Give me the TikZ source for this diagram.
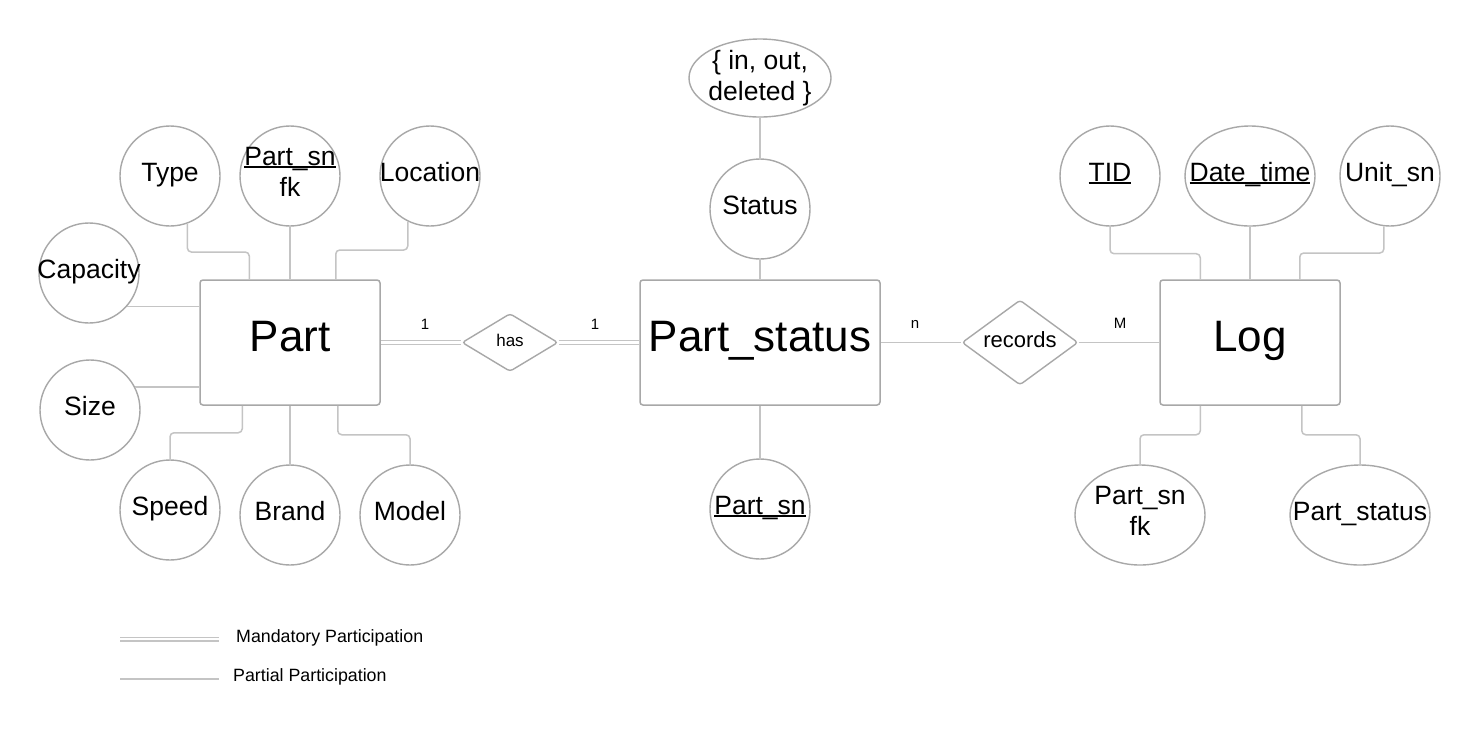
\documentclass[tikz,border=0pt]{standalone}
\usepackage{fontspec}
\setmainfont{Liberation Sans}
\usetikzlibrary{shapes.geometric}
\definecolor{shapegray}{HTML}{A8A8A8}
\definecolor{conngray}{HTML}{C4C4C4}
\newsavebox\keybox
\newcommand\keytxt[1]{\sbox\keybox{#1}\rlap{\rule[-0.11em]{\wd\keybox}{0.075em}}\usebox\keybox}
\newcommand\onel[2][5]{\makebox[0pt]{\raisebox{-#1pt}[0pt][0pt]{#2}}}
\newcommand\twol[3][20]{\makebox[0pt]{\raisebox{-#1pt}[0pt][0pt]{\begin{tabular}[b]{@{}c@{}}#2\\#3\end{tabular}}}}
\tikzset{
  ent/.style={rectangle, draw=shapegray, line width=1.5pt, rounded corners=3pt,
    minimum height=125pt, inner sep=0pt, font=\fontsize{44}{50}\selectfont},
  attr/.style={circle, draw=shapegray, line width=1.4pt, minimum size=100pt,
    inner sep=0pt, font=\fontsize{26.5}{31}\selectfont},
  attre/.style={ellipse, draw=shapegray, line width=1.4pt, inner sep=0pt,
    font=\fontsize{26.5}{31}\selectfont},
  rel/.style={diamond, draw=shapegray, line width=1.4pt, rounded corners=3pt, inner sep=0pt},
  conn/.style={draw=conngray, line width=1.5pt, rounded corners=4pt},
  mand/.style={draw=conngray, line width=1.4pt, double=white, double distance=2.2pt},
  card/.style={font=\fontsize{15}{18}\selectfont, inner sep=0pt},
  legtxt/.style={font=\fontsize{17.8}{21}\selectfont, inner sep=0pt, anchor=west}
}
\begin{document}
\begin{tikzpicture}[x=1pt,y=-1pt]
\useasboundingbox[fill=white] (0,0) rectangle (1480,740);

% entities
\node[ent, minimum width=180pt] (Part) at (290,342.5) {\onel[9]{Part}};
\node[ent, minimum width=240pt] (PS) at (760,342.5) {\onel[9]{Part\_status}};
\node[ent, minimum width=180pt] (Log) at (1250,342.5) {\onel[9]{Log}};

% relationships
\node[rel, minimum width=96pt, minimum height=58pt] (has) at (510,342.5)
  {\onel[4]{\fontsize{17}{20}\selectfont has}};
\node[rel, minimum width=116pt, minimum height=85pt] (rec) at (1020,342.5)
  {\onel[5]{\fontsize{22}{26}\selectfont records}};

% Part attributes
\node[attr] (Type) at (170,176) {\onel{Type}};
\node[attr] (PSnFk) at (290,176) {\twol{\keytxt{Part\_sn}}{fk}};
\node[attr] (Loc) at (430,176) {\onel{Location}};
\node[attr] (Cap) at (89,273) {\onel{Capacity}};
\node[attr] (Size) at (90,410) {\onel{Size}};
\node[attr] (Speed) at (170,510) {\onel{Speed}};
\node[attr] (Brand) at (290,515) {\onel{Brand}};
\node[attr] (Model) at (410,515) {\onel{Model}};

% Part_status attributes
\node[attre, minimum width=142pt, minimum height=78pt] (Dom) at (760,78)
  {\twol[22]{\{ in, out,}{deleted \}}};
\node[attr] (Status) at (760,209) {\onel{Status}};
\node[attr] (PSsn) at (760,509) {\onel{\keytxt{Part\_sn}}};

% Log attributes
\node[attr] (TID) at (1110,176) {\onel{\keytxt{TID}}};
\node[attre, minimum width=130pt, minimum height=100pt] (Date) at (1250,176)
  {\onel{\keytxt{Date\_time}}};
\node[attr] (Unit) at (1390,176) {\onel{Unit\_sn}};
\node[attre, minimum width=130pt, minimum height=100pt] (LPsn) at (1140,515)
  {\twol{Part\_sn}{fk}};
\node[attre, minimum width=140pt, minimum height=100pt] (LPst) at (1360,515)
  {\onel{Part\_status}};

% connectors: Part
\draw[conn] (Type.-70) -- (Type.-70 |- 0,252) -| ([xshift=50pt]Part.north west);
\draw[conn] (PSnFk.south) -- (Part.north);
\draw[conn] (Loc.-116) -- (Loc.-116 |- 0,250) -| ([xshift=-45pt]Part.north east);
\draw[conn] (Cap.-41) -- (Cap.-41 -| Part.west);
\draw[conn] (Size.27) -- (Size.27 -| Part.west);
\draw[conn] ([xshift=43pt]Part.south west) -- ++(0,27) -| (Speed.north);
\draw[conn] (Part.south) -- (Brand.north);
\draw[conn] ([xshift=-43pt]Part.south east) -- ++(0,29) -| (Model.north);

% connectors: Part_status
\draw[conn] (Dom.south) -- (Status.north);
\draw[conn] (Status.south) -- (PS.north);
\draw[conn] (PS.south) -- (PSsn.north);

% connectors: Log
\draw[conn] (TID.south) -- ++(0,27) -| ([xshift=41pt]Log.north west);
\draw[conn] (Date.south) -- (Log.north);
\draw[conn] (Unit.-97) -- (Unit.-97 |- 0,253) -| ([xshift=-41pt]Log.north east);
\draw[conn] ([xshift=41pt]Log.south west) -- ++(0,29) -| (LPsn.north);
\draw[conn] ([xshift=-39pt]Log.south east) -- ++(0,29) -| (LPst.north);

% relationship lines
\draw[mand] (Part.east) -- (has.west);
\draw[mand] (has.east) -- (PS.west);
\draw[conn] (PS.east) -- (rec.west);
\draw[conn] (rec.east) -- (Log.west);

% cardinalities
\node[card] (c1) at (425,324) {1};
\node[card] (c2) at (595,324) {1};
\node[card] (c3) at (915,324) {n};
\node[card] (c4) at (1120,323) {M};

% legend
\coordinate (m1) at (120,639);
\coordinate (m2) at (219,639);
\coordinate (p1) at (120,679);
\coordinate (p2) at (219,679);
\draw[mand] (m1) -- (m2);
\draw[conn] (p1) -- (p2);
\node[legtxt] (lm) at (236,638) {Mandatory Participation};
\node[legtxt] (lp) at (233,677) {Partial Participation};
\end{tikzpicture}
\end{document}
